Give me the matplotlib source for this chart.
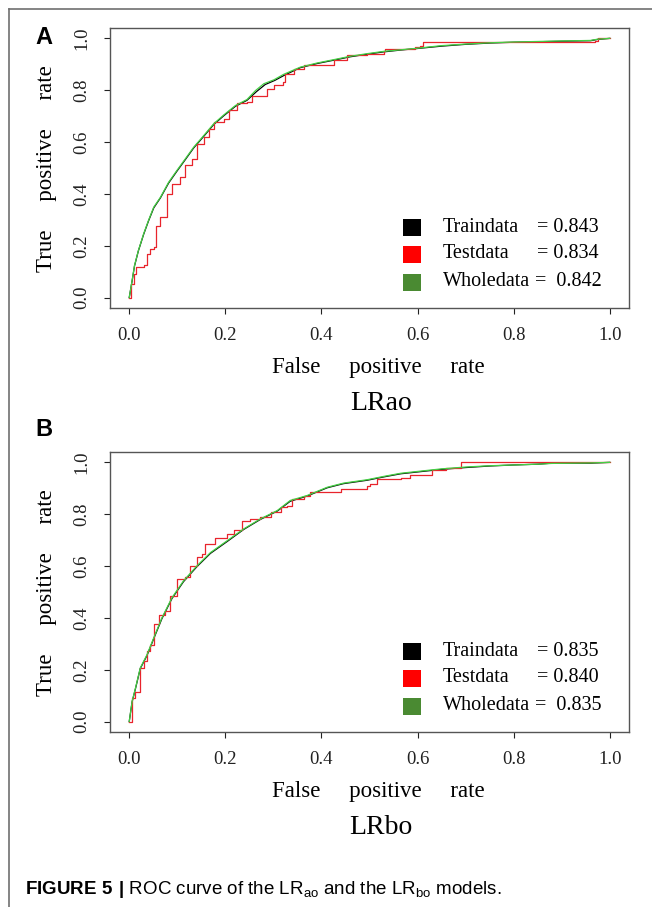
import matplotlib
matplotlib.use("Agg")
from matplotlib import pyplot as plt
from matplotlib.lines import Line2D
from matplotlib.patches import Rectangle

W, H = 652, 907

# ---- panel A : LRao ----
a_train_x = [0.0, 0.006, 0.011, 0.019, 0.030, 0.040, 0.051, 0.065, 0.082, 0.099, 0.117, 0.134, 0.155, 0.176,
             0.197, 0.221, 0.245, 0.265, 0.283, 0.303, 0.323, 0.356, 0.391, 0.426, 0.460, 0.495, 0.530, 0.565,
             0.600, 0.650, 0.700, 0.750, 0.800, 0.900, 0.960, 0.975, 1.0]
a_train_y = [0.0, 0.064, 0.122, 0.180, 0.244, 0.295, 0.346, 0.385, 0.442, 0.487, 0.533, 0.577, 0.622, 0.668,
             0.702, 0.738, 0.761, 0.795, 0.822, 0.838, 0.858, 0.887, 0.903, 0.916, 0.929, 0.939, 0.948, 0.955,
             0.961, 0.970, 0.977, 0.982, 0.985, 0.989, 0.991, 0.996, 1.0]
a_test_x = [0.0, 0.003, 0.009, 0.015, 0.030, 0.037, 0.044, 0.052, 0.056, 0.065, 0.078, 0.089, 0.106, 0.117,
            0.131, 0.141, 0.155, 0.165, 0.176, 0.197, 0.207, 0.224, 0.245, 0.256, 0.280, 0.287, 0.301, 0.321,
            0.325, 0.342, 0.363, 0.426, 0.453, 0.495, 0.530, 0.533, 0.565, 0.595, 0.605, 0.612, 0.800, 0.970,
            0.975, 1.0]
a_test_y = [0.0, 0.053, 0.091, 0.117, 0.124, 0.169, 0.188, 0.195, 0.278, 0.310, 0.400, 0.439, 0.465, 0.510,
            0.536, 0.593, 0.619, 0.651, 0.677, 0.690, 0.722, 0.750, 0.754, 0.776, 0.776, 0.806, 0.819, 0.831,
            0.863, 0.882, 0.896, 0.915, 0.934, 0.941, 0.951, 0.960, 0.960, 0.965, 0.970, 0.985, 0.985, 0.990,
            1.0, 1.0]
a_whole_x = [0.0, 0.006, 0.011, 0.019, 0.030, 0.040, 0.051, 0.065, 0.082, 0.099, 0.117, 0.134, 0.155, 0.176,
             0.197, 0.221, 0.245, 0.263, 0.280, 0.301, 0.321, 0.356, 0.391, 0.426, 0.460, 0.495, 0.530, 0.565,
             0.600, 0.650, 0.700, 0.750, 0.800, 0.900, 0.960, 0.975, 1.0]
a_whole_y = [0.0, 0.066, 0.124, 0.181, 0.246, 0.297, 0.349, 0.387, 0.445, 0.490, 0.536, 0.580, 0.625, 0.671,
             0.705, 0.741, 0.764, 0.799, 0.825, 0.840, 0.861, 0.889, 0.905, 0.918, 0.931, 0.941, 0.950, 0.956,
             0.962, 0.972, 0.978, 0.983, 0.986, 0.990, 0.992, 0.997, 1.0]
a_auc = [0.843, 0.834, 0.842]

# ---- panel B : LRbo ----
b_train_x = [0.0, 0.006, 0.013, 0.023, 0.037, 0.051, 0.068, 0.089, 0.113, 0.141, 0.169, 0.204, 0.238, 0.273,
             0.308, 0.335, 0.370, 0.412, 0.446, 0.495, 0.530, 0.565, 0.600, 0.650, 0.700, 0.750, 0.800, 0.850,
             0.880, 0.960, 1.0]
b_train_y = [0.0, 0.076, 0.127, 0.205, 0.255, 0.320, 0.397, 0.475, 0.540, 0.598, 0.649, 0.695, 0.741, 0.780,
             0.812, 0.850, 0.870, 0.902, 0.918, 0.931, 0.944, 0.956, 0.963, 0.973, 0.980, 0.986, 0.990, 0.993,
             0.997, 0.997, 1.0]
b_test_x = [0.0, 0.006, 0.013, 0.023, 0.030, 0.037, 0.044, 0.051, 0.061, 0.075, 0.085, 0.099, 0.117, 0.127,
            0.141, 0.151, 0.158, 0.179, 0.204, 0.217, 0.235, 0.252, 0.273, 0.294, 0.315, 0.329, 0.339, 0.363,
            0.377, 0.426, 0.440, 0.495, 0.502, 0.516, 0.565, 0.585, 0.630, 0.660, 0.690, 1.0]
b_test_y = [0.0, 0.090, 0.116, 0.207, 0.233, 0.271, 0.297, 0.375, 0.413, 0.426, 0.484, 0.549, 0.556, 0.601,
            0.636, 0.646, 0.687, 0.708, 0.723, 0.739, 0.775, 0.782, 0.788, 0.808, 0.827, 0.833, 0.859, 0.872,
            0.885, 0.885, 0.898, 0.907, 0.917, 0.936, 0.940, 0.950, 0.970, 0.980, 1.0, 1.0]
b_whole_x = [0.0, 0.006, 0.013, 0.023, 0.037, 0.051, 0.068, 0.089, 0.113, 0.141, 0.169, 0.204, 0.238, 0.273,
             0.308, 0.335, 0.370, 0.412, 0.446, 0.495, 0.530, 0.565, 0.600, 0.650, 0.700, 0.750, 0.800, 0.850,
             0.880, 0.960, 1.0]
b_whole_y = [0.0, 0.078, 0.129, 0.207, 0.258, 0.323, 0.400, 0.478, 0.543, 0.601, 0.652, 0.698, 0.743, 0.782,
             0.814, 0.853, 0.872, 0.904, 0.920, 0.933, 0.946, 0.958, 0.965, 0.975, 0.982, 0.987, 0.990, 0.993,
             0.996, 0.998, 1.0]
b_auc = [0.835, 0.840, 0.835]

names = ["Traindata", "Testdata", "Wholedata"]
ticks = [0.0, 0.2, 0.4, 0.6, 0.8, 1.0]
tick_labels = ["0.0", "0.2", "0.4", "0.6", "0.8", "1.0"]

line_cols = ["black", "#e8242c", "#44d044"]
box_cols = ["black", "#ff0000", "#4a8a32"]

plt.rcParams["font.family"] = ["Liberation Serif", "DejaVu Serif"]
plt.rcParams["mathtext.fontset"] = "custom"
plt.rcParams["mathtext.rm"] = "Liberation Sans"
plt.rcParams["mathtext.bf"] = "Liberation Sans:bold"

fig = plt.figure(figsize=(W / 100, H / 100), dpi=100)


def fx(px):
    return px / W


def fy(py):
    return 1 - py / H


def panel(top, series, aucs, title, letter, letter_y):
    ax = fig.add_axes([fx(110), fy(top + 280), 519 / W, 280 / H])
    for (xs, ys), c, name in zip(series, line_cols, names):
        if name == "Testdata":
            ax.plot(xs, ys, color=c, lw=0.9, drawstyle="steps-post")
        else:
            ax.plot(xs, ys, color=c, lw=0.9)
    ax.set_xlim(-0.04, 1.04)
    ax.set_ylim(-0.04, 1.04)
    ax.set_xticks(ticks, labels=tick_labels, fontsize=13.5)
    ax.set_yticks(ticks, labels=tick_labels, fontsize=13.5, rotation=90, va="center")
    ax.tick_params(axis="x", length=4.5, width=0.8, pad=9.5, colors="#222222")
    ax.tick_params(axis="y", length=4.5, width=0.8, pad=9.5, colors="#222222")
    for s in ax.spines.values():
        s.set_color("#555555")
        s.set_linewidth(1.0)

    # axis titles, R style with wide word gaps
    fig.text(fx(378), fy(top + 339), "False     positive     rate", ha="center", va="center", fontsize=16.5)
    fig.text(fx(47), fy(top + 141), "True     positive     rate", ha="center", va="center",
             fontsize=16.5, rotation=90)
    fig.text(fx(381), fy(top + 376), title, ha="center", va="center", fontsize=20)
    fig.text(fx(44), fy(letter_y), letter, ha="center", va="center", fontsize=17,
             family="Liberation Sans", weight="bold")

    # legend with filled boxes
    rows = [top + 199, top + 226, top + 254]
    for i, (name, auc) in enumerate(zip(names, aucs)):
        r = rows[i]
        fig.add_artist(Rectangle((fx(403), fy(r + 8.5)), 18 / W, 17 / H, transform=fig.transFigure,
                                 facecolor=box_cols[i], edgecolor="none"))
        fig.text(fx(443), fy(r), name, ha="left", va="center", fontsize=14.5)
        if i == 2:
            fig.text(fx(535), fy(r), "=  %.3f" % auc, ha="left", va="center", fontsize=14.5)
        else:
            fig.text(fx(537), fy(r), "= %.3f" % auc, ha="left", va="center", fontsize=14.5)
    return ax


panel(28, [(a_train_x, a_train_y), (a_test_x, a_test_y), (a_whole_x, a_whole_y)], a_auc, "LRao", "A", 37)
panel(452, [(b_train_x, b_train_y), (b_test_x, b_test_y), (b_whole_x, b_whole_y)], b_auc, "LRbo", "B", 430)

# page frame lines
fig.add_artist(Line2D([fx(9), 1], [fy(9), fy(9)], transform=fig.transFigure, color="#707070", lw=1.2))
fig.add_artist(Line2D([fx(9), fx(9)], [fy(9), 0], transform=fig.transFigure, color="#707070", lw=1.2))

fig.text(fx(25), fy(889),
         r"$\mathbf{FIGURE\ 5\ |}$ ROC curve of the LR$_\mathregular{ao}$ and the LR$_\mathregular{bo}$ models.",
         ha="left", va="center", fontsize=13.5, family="Liberation Sans")

fig.savefig("out.png", dpi=100)
